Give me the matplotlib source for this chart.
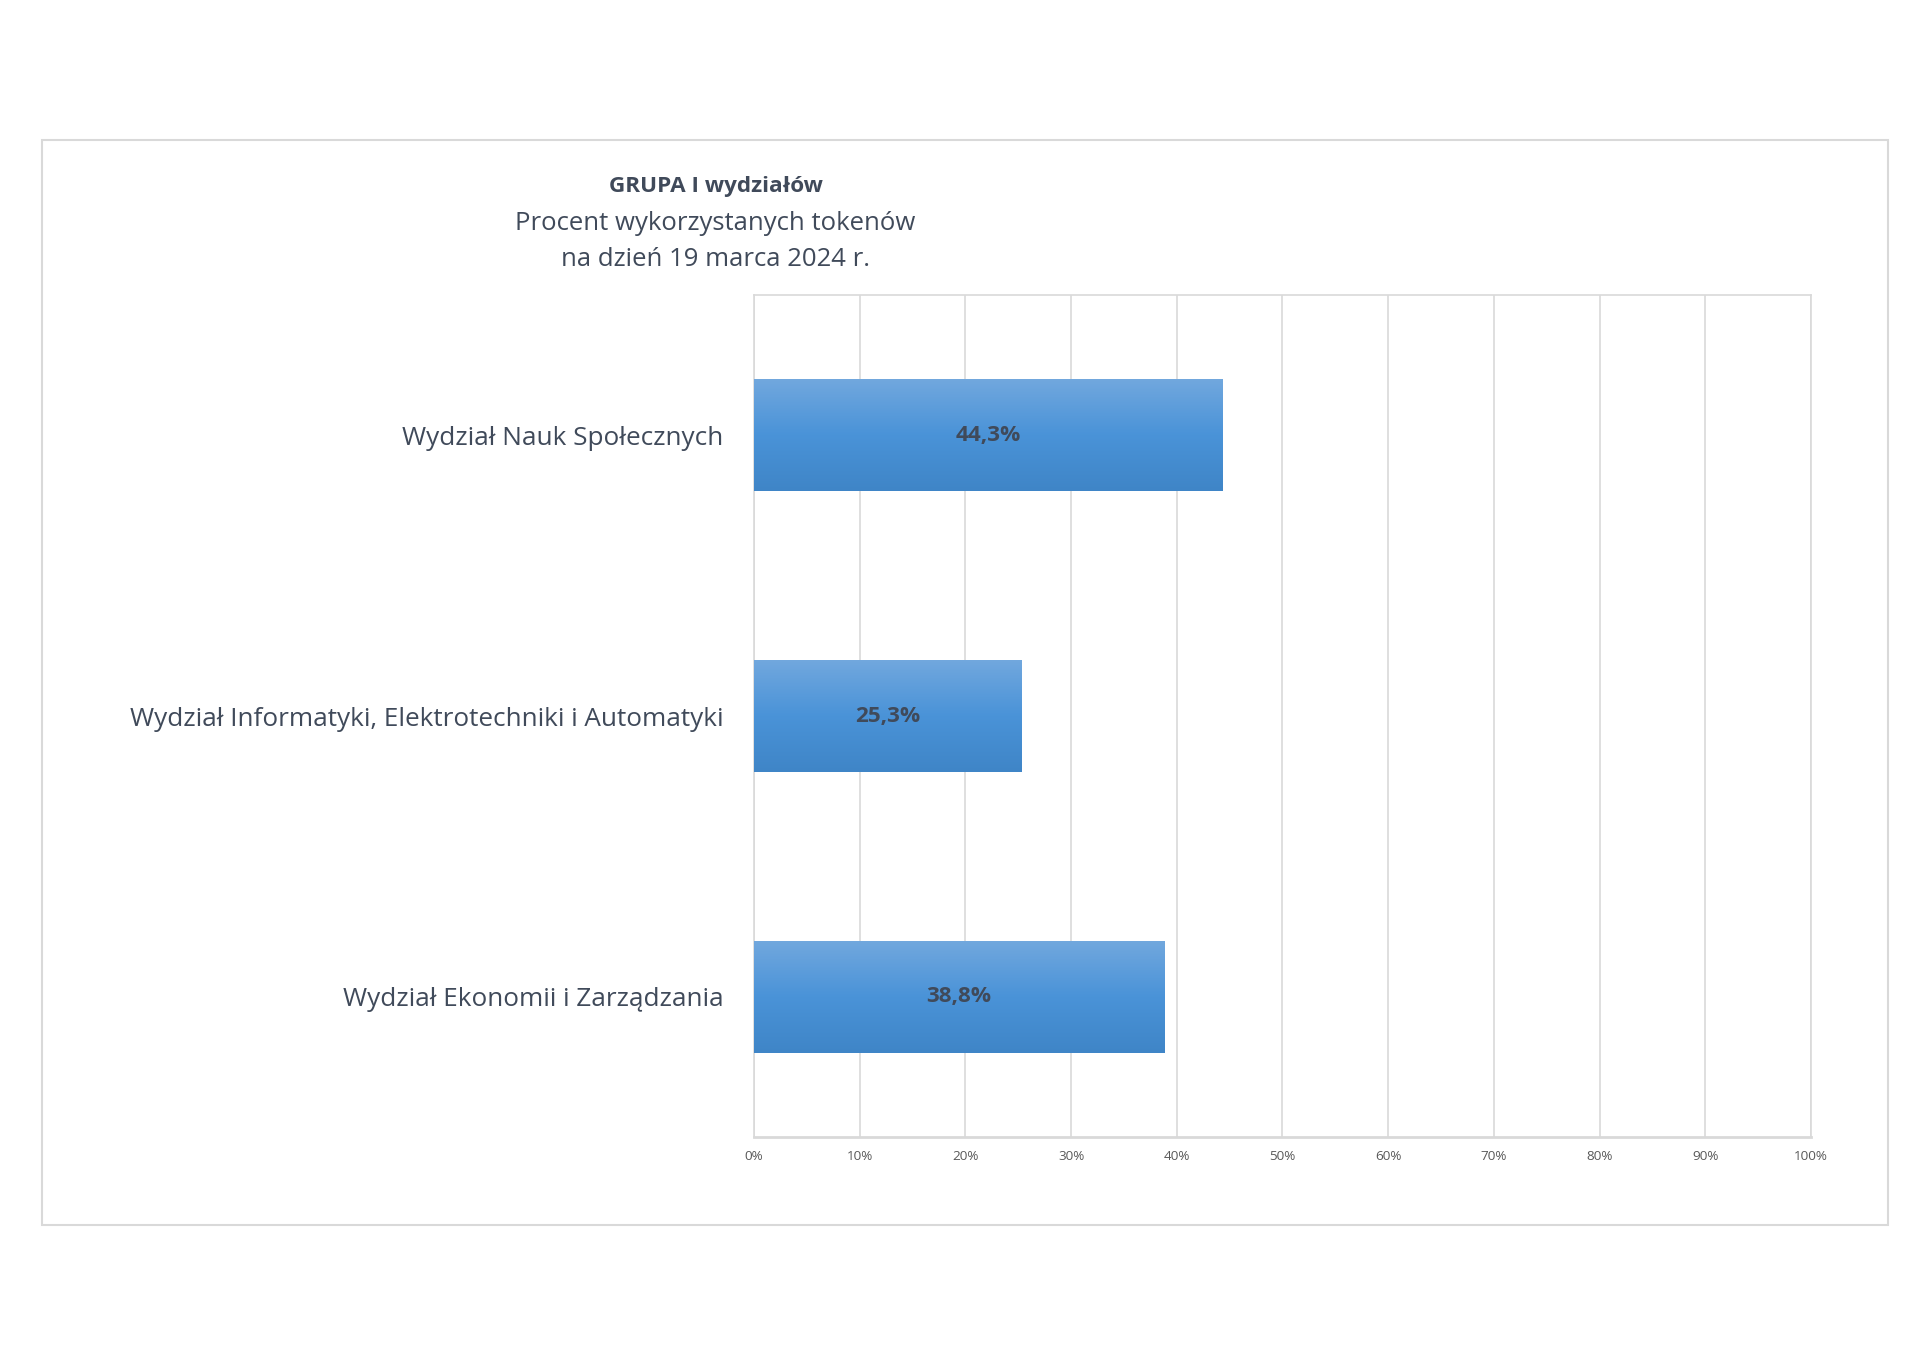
import matplotlib.pyplot as plt
import numpy as np
from matplotlib.patches import Rectangle
from matplotlib.colors import LinearSegmentedColormap

# dane
wydzialy = ["Wydział Nauk Społecznych",
            "Wydział Informatyki, Elektrotechniki i Automatyki",
            "Wydział Ekonomii i Zarządzania"]
procent = [44.3, 25.3, 38.8]
ticki = [0, 10, 20, 30, 40, 50, 60, 70, 80, 90, 100]

tekst = "#404a5a"
siatka = "#d9d9d9"

plt.rcParams['font.family'] = ['Open Sans', 'DejaVu Sans']

fig = plt.figure(figsize=(19.2, 13.58), dpi=100)

# ramka wykresu
fig.patches.append(Rectangle((0.0219, 0.0979), 0.9615, 0.799, transform=fig.transFigure,
                             fill=False, edgecolor=siatka, linewidth=1.5))

# tytuł
fig.text(0.3727, 0.8623, "GRUPA I wydziałów", ha='center', va='center',
         fontsize=16.2, fontweight='bold', color=tekst)
fig.text(0.3727, 0.8355, "Procent wykorzystanych tokenów", ha='center', va='center',
         fontsize=18.5, color=tekst)
fig.text(0.3727, 0.8090, "na dzień 19 marca 2024 r.", ha='center', va='center',
         fontsize=18.5, color=tekst)

ax = fig.add_axes([0.3927, 0.1627, 0.5505, 0.6201])
y = np.arange(len(wydzialy))
bars = ax.barh(y, procent, height=0.4, color='#5b9bd5', zorder=2)

# gradient na słupkach
grad = np.linspace(0, 1, 256).reshape(-1, 1)
cmap = LinearSegmentedColormap.from_list('g', ['#72a8de', '#4a93d8', '#3f85c7'])
for b in bars:
    x0, y0 = b.get_x(), b.get_y()
    w, h = b.get_width(), b.get_height()
    im = ax.imshow(grad, extent=[x0, x0 + w, y0 + h, y0], aspect='auto',
                   cmap=cmap, origin='upper', zorder=3)
    im.set_clip_path(b)
    ax.text(x0 + w / 2, y0 + h / 2, f"{w:.1f}%".replace('.', ','), ha='center',
            va='center', fontsize=16.2, fontweight='bold', color=tekst, zorder=4)

ax.set_xlim(0, 100)
ax.set_ylim(2.5, -0.5)
ax.set_xticks(ticki)
ax.set_xticklabels([f"{t}%" for t in ticki], fontsize=9.7, color='#595959')
ax.set_yticks(y)
ax.set_yticklabels(wydzialy, fontsize=18.8, color=tekst)
ax.tick_params(axis='both', length=0)
ax.tick_params(axis='x', pad=9)
ax.tick_params(axis='y', pad=22)
ax.grid(axis='x', color=siatka, linewidth=1.2, zorder=0)
for s in ax.spines.values():
    s.set_color(siatka)
    s.set_linewidth(1.2)
ax.spines['bottom'].set_linewidth(2)

fig.savefig("out.png", dpi=100, facecolor='white')
